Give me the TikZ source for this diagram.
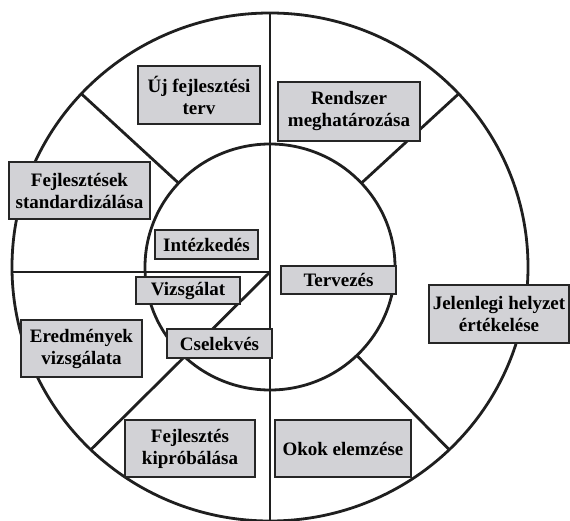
\documentclass[tikz,border=0pt]{standalone}
\usepackage{fontspec}
\setmainfont{Liberation Serif}
\usepackage{tikz}
\definecolor{boxgray}{RGB}{210,210,214}

\begin{document}
\begin{tikzpicture}[x=1pt, y=1pt,
    ring/.style={line width=2.8pt, color=black!88},
    lbl/.style={draw=black!85, line width=1.2pt, fill=boxgray, inner sep=0pt, align=center,
        font=\bfseries\fontsize{19}{22}\selectfont}]

            \useasboundingbox (0,0) rectangle (570,520);

            \coordinate (c) at (270,253);
            \coordinate (mid) at (270,248);
            \coordinate (top) at (270,507);
            \coordinate (bottom) at (270,-6);
            \coordinate (left) at (12,248);

            \draw[ring] (c) ellipse [x radius=258, y radius=254];
            \draw[ring] (c) ellipse [x radius=125, y radius=123];

            \draw[ring] (top) -- (bottom);
            \draw[ring] (left) -- (mid);

            \path (c) ++(137:125 and 123) coordinate (ulin);
            \path (c) ++(137:258 and 254) coordinate (ulout);
            \path (c) ++(43:125 and 123) coordinate (urin);
            \path (c) ++(43:258 and 254) coordinate (urout);
            \path (c) ++(-46:125 and 123) coordinate (lrin);
            \path (c) ++(-46:258 and 254) coordinate (lrout);
            \path (c) ++(226:258 and 254) coordinate (llout);

            \draw[ring] (ulin) -- (ulout);
            \draw[ring] (urin) -- (urout);
            \draw[ring] (lrin) -- (lrout);
            \draw[ring] (mid) -- (llout);

            \node[lbl, minimum width=122pt, minimum height=58pt] (ujterv) at (199,425) {Új fejlesztési\\terv};
            \node[lbl, minimum width=142pt, minimum height=59pt] (rendszer) at (349,408.5) {Rendszer\\meghatározása};
            \node[lbl, minimum width=141pt, minimum height=57pt] (standard) at (79.5,329.5) {Fejlesztések\\standardizálása};
            \node[lbl, minimum width=103pt, minimum height=29pt] (intezkedes) at (206.5,275.5) {Intézkedés};
            \node[lbl, minimum width=104pt, minimum height=27pt] (vizsgalat) at (188,229.5) {Vizsgálat};
            \node[lbl, minimum width=105pt, minimum height=29pt] (cselekves) at (219.5,176.5) {Cselekvés};
            \node[lbl, minimum width=115pt, minimum height=28pt] (tervezes) at (338.5,240) {Tervezés};
            \node[lbl, minimum width=121pt, minimum height=57pt] (eredmeny) at (81.5,171.5) {Eredmények\\vizsgálata};
            \node[lbl, minimum width=140pt, minimum height=58pt] (jelenlegi) at (499,206) {Jelenlegi helyzet\\értékelése};
            \node[lbl, minimum width=130pt, minimum height=57pt] (kiprobalas) at (190,71.5) {Fejlesztés\\kipróbálása};
            \node[lbl, minimum width=136pt, minimum height=57pt] (okok) at (343,71.5) {Okok elemzése};

\end{tikzpicture}
\end{document}
